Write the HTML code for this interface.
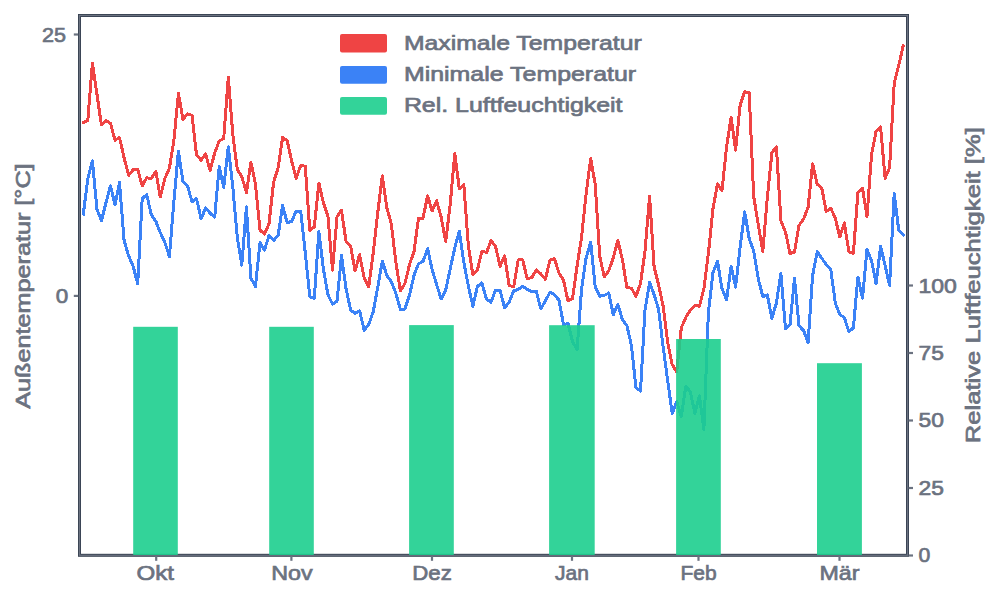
<!DOCTYPE html>
<html><head><meta charset="utf-8"><title>Chart</title>
<style>
html,body{margin:0;padding:0;background:#fff;}
body{width:1000px;height:600px;overflow:hidden;font-family:"Liberation Sans",sans-serif;}
svg{display:block;}
text{font-family:"Liberation Sans",sans-serif;fill:#6b7280;stroke:#6b7280;stroke-width:0.7px;}
</style></head><body>
<svg width="1000" height="600" viewBox="0 0 1000 600">
<rect width="1000" height="600" fill="#ffffff"/>
<polyline points="82.7,122.0 87.2,119.9 91.8,62.5 96.3,93.2 100.8,124.4 105.4,120.0 109.9,122.8 114.4,139.6 118.9,137.0 123.5,157.2 128.0,174.8 132.5,169.2 137.1,168.7 141.6,185.2 146.1,177.2 150.7,178.0 155.2,170.8 159.7,196.4 164.2,178.0 168.8,167.6 173.3,139.6 177.8,92.9 182.4,118.8 186.9,113.2 191.4,114.8 195.9,154.0 200.5,159.6 205.0,153.2 209.5,170.0 214.1,152.4 218.6,140.4 223.1,138.0 227.7,76.4 232.2,134.0 236.7,168.8 241.2,176.0 245.8,192.0 250.3,161.6 254.8,183.2 259.4,229.5 263.9,233.5 268.4,223.1 273.0,181.6 277.5,167.2 282.0,137.0 286.6,140.0 291.1,160.8 295.6,177.6 300.1,164.8 304.7,165.6 309.2,230.0 313.7,226.3 318.3,182.4 322.8,202.4 327.3,215.2 331.9,269.5 336.4,216.3 340.9,209.6 345.4,240.6 350.0,245.4 354.5,270.3 359.0,254.0 363.6,277.0 368.1,286.3 372.6,252.6 377.1,212.5 381.7,175.2 386.2,207.2 390.7,223.2 395.3,262.0 399.8,290.4 404.3,283.0 408.9,264.0 413.4,251.0 417.9,217.6 422.4,217.6 427.0,195.2 431.5,210.4 436.0,200.0 440.6,216.8 445.1,240.8 449.6,204.0 454.2,152.8 458.7,188.0 463.2,184.0 467.8,245.6 472.3,274.4 476.8,269.6 481.3,250.4 485.9,252.0 490.4,240.0 494.9,245.6 499.5,265.6 504.0,255.2 508.5,284.8 513.1,286.4 517.6,259.2 522.1,259.2 526.6,278.2 531.2,277.0 535.7,269.4 540.2,273.2 544.8,278.8 549.3,259.6 553.8,258.0 558.4,272.4 562.9,279.6 567.4,300.4 571.9,298.0 576.5,265.2 581.0,236.4 585.5,193.2 590.1,158.0 594.6,183.6 599.1,255.6 603.7,276.4 608.2,270.0 612.7,257.2 617.2,240.0 621.8,258.8 626.3,286.8 630.8,287.6 635.4,295.6 639.9,282.8 644.4,250.8 649.0,195.6 653.5,266.4 658.0,284.4 662.5,305.4 667.1,341.6 671.6,364.0 676.1,371.2 680.7,327.2 685.2,316.8 689.7,309.6 694.3,304.8 698.8,305.6 703.3,288.0 707.8,252.8 712.4,208.0 716.9,183.2 721.4,190.0 726.0,146.0 730.5,116.8 735.0,149.6 739.6,104.0 744.1,91.2 748.6,92.0 753.1,196.0 757.7,224.0 762.2,251.0 766.7,197.6 771.3,152.0 775.8,146.4 780.3,220.0 784.9,231.6 789.4,252.8 793.9,251.6 798.4,224.8 803.0,218.4 807.5,206.8 812.0,163.2 816.6,183.6 821.1,187.2 825.6,210.8 830.2,207.6 834.7,217.6 839.2,236.4 843.7,222.4 848.3,251.2 852.8,252.8 857.3,192.0 861.9,187.6 866.4,216.0 870.9,154.4 875.5,130.4 880.0,126.4 884.5,177.6 889.0,167.2 893.6,82.8 898.1,65.0 902.6,45.2" fill="none" stroke="#ef4444" stroke-width="3" stroke-linejoin="round" stroke-linecap="square" shape-rendering="crispEdges" transform="translate(0.6,0.6)"/>
<polyline points="82.7,213.4 87.2,178.0 91.8,160.4 96.3,208.4 100.8,220.2 105.4,202.0 109.9,185.2 114.4,204.4 118.9,182.0 123.5,240.0 128.0,255.2 132.5,265.6 137.1,283.2 141.6,198.0 146.1,194.0 150.7,214.0 155.2,220.6 159.7,232.0 164.2,241.6 168.8,256.0 173.3,200.4 177.8,150.8 182.4,181.2 186.9,185.2 191.4,201.2 195.9,198.0 200.5,218.2 205.0,207.4 209.5,212.6 214.1,216.6 218.6,166.0 223.1,186.8 227.7,146.2 232.2,186.4 236.7,237.0 241.2,264.6 245.8,206.4 250.3,277.4 254.8,286.2 259.4,242.2 263.9,249.4 268.4,235.0 273.0,239.8 277.5,235.0 282.0,204.8 286.6,222.3 291.1,220.7 295.6,210.4 300.1,210.4 304.7,252.5 309.2,296.0 313.7,298.0 318.3,231.0 322.8,268.3 327.3,294.0 331.9,303.5 336.4,300.7 340.9,255.0 345.4,288.0 350.0,309.5 354.5,312.8 359.0,310.2 363.6,329.6 368.1,324.0 372.6,311.2 377.1,287.0 381.7,260.5 386.2,274.8 390.7,281.2 395.3,292.8 399.8,308.8 404.3,308.4 408.9,294.4 413.4,274.8 417.9,263.2 422.4,260.8 427.0,248.0 431.5,268.8 436.0,284.0 440.6,298.4 445.1,289.5 449.6,268.4 454.2,247.2 458.7,230.4 463.2,261.6 467.8,285.6 472.3,305.6 476.8,285.6 481.3,282.4 485.9,298.4 490.4,301.6 494.9,289.6 499.5,289.6 504.0,307.2 508.5,301.6 513.1,290.4 517.6,288.8 522.1,285.6 526.6,288.6 531.2,291.0 535.7,290.4 540.2,308.2 544.8,300.4 549.3,291.6 553.8,294.0 558.4,299.6 562.9,323.8 567.4,323.0 571.9,341.0 576.5,348.8 581.0,288.0 585.5,257.2 590.1,241.6 594.6,286.0 599.1,295.6 603.7,294.8 608.2,292.4 612.7,314.2 617.2,303.8 621.8,319.0 626.3,325.0 630.8,344.8 635.4,387.2 639.9,390.4 644.4,309.0 649.0,282.0 653.5,294.0 658.0,308.6 662.5,346.0 667.1,380.0 671.6,412.8 676.1,400.8 680.7,416.0 685.2,385.6 689.7,391.2 694.3,412.8 698.8,395.2 703.3,428.8 707.8,312.0 712.4,272.0 716.9,260.8 721.4,288.0 726.0,299.2 730.5,265.6 735.0,286.4 739.6,246.0 744.1,211.2 748.6,238.0 753.1,250.4 757.7,278.4 762.2,296.0 766.7,294.4 771.3,317.6 775.8,302.4 780.3,272.8 784.9,328.0 789.4,324.4 793.9,277.6 798.4,325.2 803.0,330.0 807.5,342.4 812.0,275.0 816.6,251.2 821.1,257.6 825.6,263.8 830.2,269.0 834.7,302.4 839.2,314.0 843.7,316.8 848.3,331.2 852.8,327.2 857.3,276.4 861.9,297.6 866.4,248.8 870.9,260.0 875.5,283.2 880.0,245.6 884.5,264.8 889.0,284.8 893.6,192.8 898.1,229.6 902.6,234.4" fill="none" stroke="#3b82f6" stroke-width="3" stroke-linejoin="round" stroke-linecap="square" shape-rendering="crispEdges" transform="translate(0.6,0.6)"/>
<rect x="79.5" y="15.5" width="828.0" height="539.8" fill="none" stroke="#374151" stroke-width="3"/>
<rect x="79.5" y="15.5" width="828.0" height="539.8" fill="none" stroke="#6b7280" stroke-width="1.2"/>
<line x1="73.8" x2="78.2" y1="34.5" y2="34.5" stroke="#6b7280" stroke-width="2.2"/>
<line x1="73.8" x2="78.2" y1="295.9" y2="295.9" stroke="#6b7280" stroke-width="2.2"/>
<line x1="156.2" x2="156.2" y1="556.1" y2="560.8" stroke="#6b7280" stroke-width="2.2"/>
<line x1="291.4" x2="291.4" y1="556.1" y2="560.8" stroke="#6b7280" stroke-width="2.2"/>
<line x1="432" x2="432" y1="556.1" y2="560.8" stroke="#6b7280" stroke-width="2.2"/>
<line x1="572" x2="572" y1="556.1" y2="560.8" stroke="#6b7280" stroke-width="2.2"/>
<line x1="698.5" x2="698.5" y1="556.1" y2="560.8" stroke="#6b7280" stroke-width="2.2"/>
<line x1="839.5" x2="839.5" y1="556.1" y2="560.8" stroke="#6b7280" stroke-width="2.2"/>
<rect x="133.2" y="326.8" width="44.6" height="228.2" fill="rgb(29,206,142)" fill-opacity="0.9"/>
<rect x="269.2" y="326.8" width="44.6" height="228.2" fill="rgb(29,206,142)" fill-opacity="0.9"/>
<rect x="409.1" y="325.1" width="44.7" height="229.9" fill="rgb(29,206,142)" fill-opacity="0.9"/>
<rect x="549.1" y="325.2" width="45.6" height="229.8" fill="rgb(29,206,142)" fill-opacity="0.9"/>
<rect x="676.1" y="339" width="44.7" height="216.0" fill="rgb(29,206,142)" fill-opacity="0.9"/>
<rect x="817" y="363.2" width="44.9" height="191.8" fill="rgb(29,206,142)" fill-opacity="0.9"/>
<line x1="908.6" x2="913" y1="555.5" y2="555.5" stroke="#6b7280" stroke-width="2.2"/>
<line x1="908.6" x2="913" y1="488.0" y2="488.0" stroke="#6b7280" stroke-width="2.2"/>
<line x1="908.6" x2="913" y1="420.5" y2="420.5" stroke="#6b7280" stroke-width="2.2"/>
<line x1="908.6" x2="913" y1="353.0" y2="353.0" stroke="#6b7280" stroke-width="2.2"/>
<line x1="908.6" x2="913" y1="285.5" y2="285.5" stroke="#6b7280" stroke-width="2.2"/>
<text x="42" y="41.8" font-size="21" text-anchor="start" textLength="24.0" lengthAdjust="spacingAndGlyphs">25</text>
<text x="55.8" y="303.2" font-size="21" text-anchor="start" textLength="12.5" lengthAdjust="spacingAndGlyphs">0</text>
<text x="918.5" y="562.3" font-size="21" text-anchor="start" textLength="11.8" lengthAdjust="spacingAndGlyphs">0</text>
<text x="918.5" y="494.9" font-size="21" text-anchor="start" textLength="25.4" lengthAdjust="spacingAndGlyphs">25</text>
<text x="918.5" y="427.4" font-size="21" text-anchor="start" textLength="25.4" lengthAdjust="spacingAndGlyphs">50</text>
<text x="918.5" y="359.9" font-size="21" text-anchor="start" textLength="25.4" lengthAdjust="spacingAndGlyphs">75</text>
<text x="918.5" y="292.5" font-size="21" text-anchor="start" textLength="38.4" lengthAdjust="spacingAndGlyphs">100</text>
<text x="136.5" y="580" font-size="21" text-anchor="start" textLength="37.5" lengthAdjust="spacingAndGlyphs">Okt</text>
<text x="271.2" y="580" font-size="21" text-anchor="start" textLength="41.4" lengthAdjust="spacingAndGlyphs">Nov</text>
<text x="412.3" y="580" font-size="21" text-anchor="start" textLength="39.6" lengthAdjust="spacingAndGlyphs">Dez</text>
<text x="572" y="580" font-size="21" text-anchor="middle">Jan</text>
<text x="698.5" y="580" font-size="21" text-anchor="middle">Feb</text>
<text x="819.5" y="580" font-size="21" text-anchor="start" textLength="40.0" lengthAdjust="spacingAndGlyphs">Mär</text>
<rect x="340" y="34.1" width="47" height="18.4" rx="2" fill="#ef4444"/>
<text x="403.9" y="50.3" font-size="21" text-anchor="start" textLength="237.8" lengthAdjust="spacingAndGlyphs">Maximale Temperatur</text>
<rect x="340" y="66.0" width="47" height="17.7" rx="2" fill="#3b82f6"/>
<text x="403.9" y="81.2" font-size="21" text-anchor="start" textLength="232.2" lengthAdjust="spacingAndGlyphs">Minimale Temperatur</text>
<rect x="340" y="97.0" width="47" height="17.7" rx="2" fill="rgb(29,206,142)" fill-opacity="0.9"/>
<text x="403.9" y="112.1" font-size="21" text-anchor="start" textLength="218.6" lengthAdjust="spacingAndGlyphs">Rel. Luftfeuchtigkeit</text>
<text font-size="21" text-anchor="middle" transform="translate(29.8,286.1) rotate(-90)" textLength="245.4" lengthAdjust="spacingAndGlyphs">Außentemperatur [°C]</text>
<text font-size="21" text-anchor="middle" transform="translate(979.8,285.2) rotate(-90)" textLength="316" lengthAdjust="spacingAndGlyphs">Relative Luftfeuchtigkeit [%]</text>
</svg></body></html>
